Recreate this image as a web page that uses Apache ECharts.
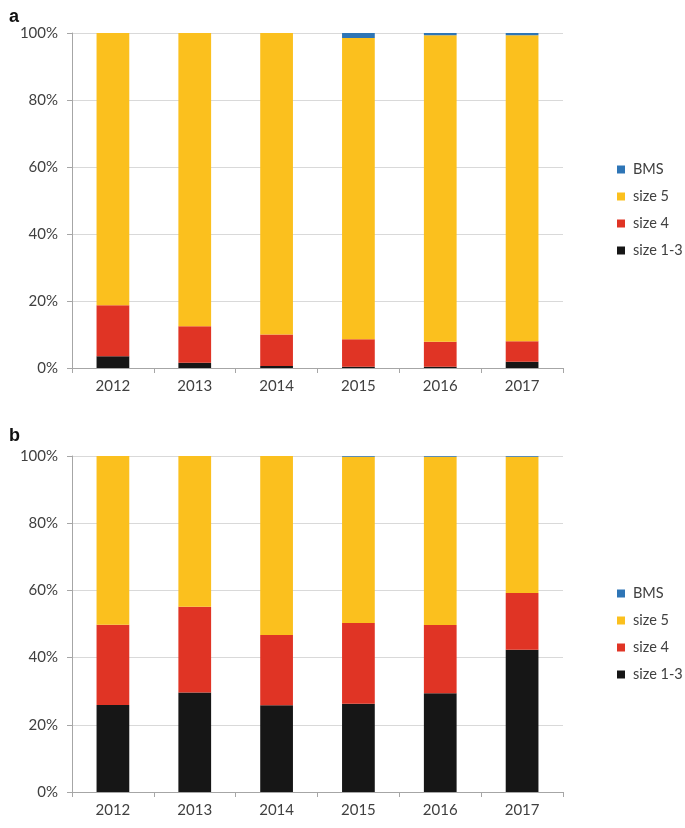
<!DOCTYPE html>
<html><head><meta charset="utf-8">
<script src="https://cdn.jsdelivr.net/npm/echarts@6/dist/echarts.min.js"></script>
<style>html,body{margin:0;padding:0;background:#fff}#c{width:685px;height:828px}</style>
</head><body><div id="c"></div>
<script>
const years = ['2012','2013','2014','2015','2016','2017'];
const yTicks = [0,20,40,60,80,100];
// panel a (percent)
const a_size13 = [3.5, 1.6, 0.6, 0.4, 0.4, 1.9];
const a_size4  = [15.2, 10.9, 9.4, 8.2, 7.4, 6.1];
const a_bms    = [0, 0, 0, 1.5, 0.7, 0.7];
const a_size5  = [81.3, 87.5, 90.0, 89.9, 91.5, 91.3];
// panel b (percent)
const b_size13 = [25.9, 29.6, 25.8, 26.3, 29.4, 42.3];
const b_size4  = [23.9, 25.5, 20.9, 24.0, 20.3, 16.9];
const b_bms    = [0, 0, 0, 0.25, 0.25, 0.25];
const b_size5  = [50.2, 44.9, 53.3, 49.45, 50.05, 40.55];

const colors = {bms:'#2E75B6', s5:'#FBC01E', s4:'#E03425', s13:'#161616'};
const font = 'Lato';
const chart = echarts.init(document.getElementById('c'));

function grid(top, bottom){ return {left:72, right:122, top:top, bottom:bottom, containLabel:false}; }
function xAx(i){ return {type:'category', gridIndex:i, data:years,
  axisLine:{lineStyle:{color:'#a6a6a6'}}, axisTick:{show:true, length:5, lineStyle:{color:'#a6a6a6'}},
  axisLabel:{color:'#404040', fontSize:15, fontFamily:font, margin:11}};}
function yAx(i){ return {type:'value', gridIndex:i, min:0, max:100, interval:20,
  axisLine:{show:true, lineStyle:{color:'#a6a6a6'}}, axisTick:{show:true, length:5, lineStyle:{color:'#a6a6a6'}},
  splitLine:{lineStyle:{color:'#d9d9d9'}},
  axisLabel:{color:'#404040', fontSize:15, fontFamily:font, margin:14, formatter:v=>yTicks.includes(v)?v+'%':''}};}
function ser(name, data, color, i){ return {name:name, type:'bar', stack:'s'+i, xAxisIndex:i, yAxisIndex:i,
  data:data, barWidth:'40%', itemStyle:{color:color}, emphasis:{disabled:true}}; }
function legend(top){ return {orient:'vertical', left:612, top:top, itemWidth:8, itemHeight:8, itemGap:12,
  icon:'rect', textStyle:{color:'#404040', fontSize:14.5, fontFamily:font, padding:[0,0,0,3]},
  data:['BMS','size 5','size 4','size 1-3']}; }

chart.setOption({
  animation:false,
  title:[{text:'a', left:4, top:3, textStyle:{fontSize:18, fontWeight:'bold', color:'#111', fontFamily:'Liberation Sans'}},
         {text:'b', left:4, top:422, textStyle:{fontSize:18, fontWeight:'bold', color:'#111', fontFamily:'Liberation Sans'}}],
  grid:[grid(33, 460), grid(456, 36)],
  xAxis:[xAx(0), xAx(1)],
  yAxis:[yAx(0), yAx(1)],
  legend:[legend(157), legend(581)],
  series:[
    ser('size 1-3', a_size13, colors.s13, 0),
    ser('size 4', a_size4, colors.s4, 0),
    ser('size 5', a_size5, colors.s5, 0),
    ser('BMS', a_bms, colors.bms, 0),
    ser('size 1-3', b_size13, colors.s13, 1),
    ser('size 4', b_size4, colors.s4, 1),
    ser('size 5', b_size5, colors.s5, 1),
    ser('BMS', b_bms, colors.bms, 1)
  ]
});
</script></body></html>
